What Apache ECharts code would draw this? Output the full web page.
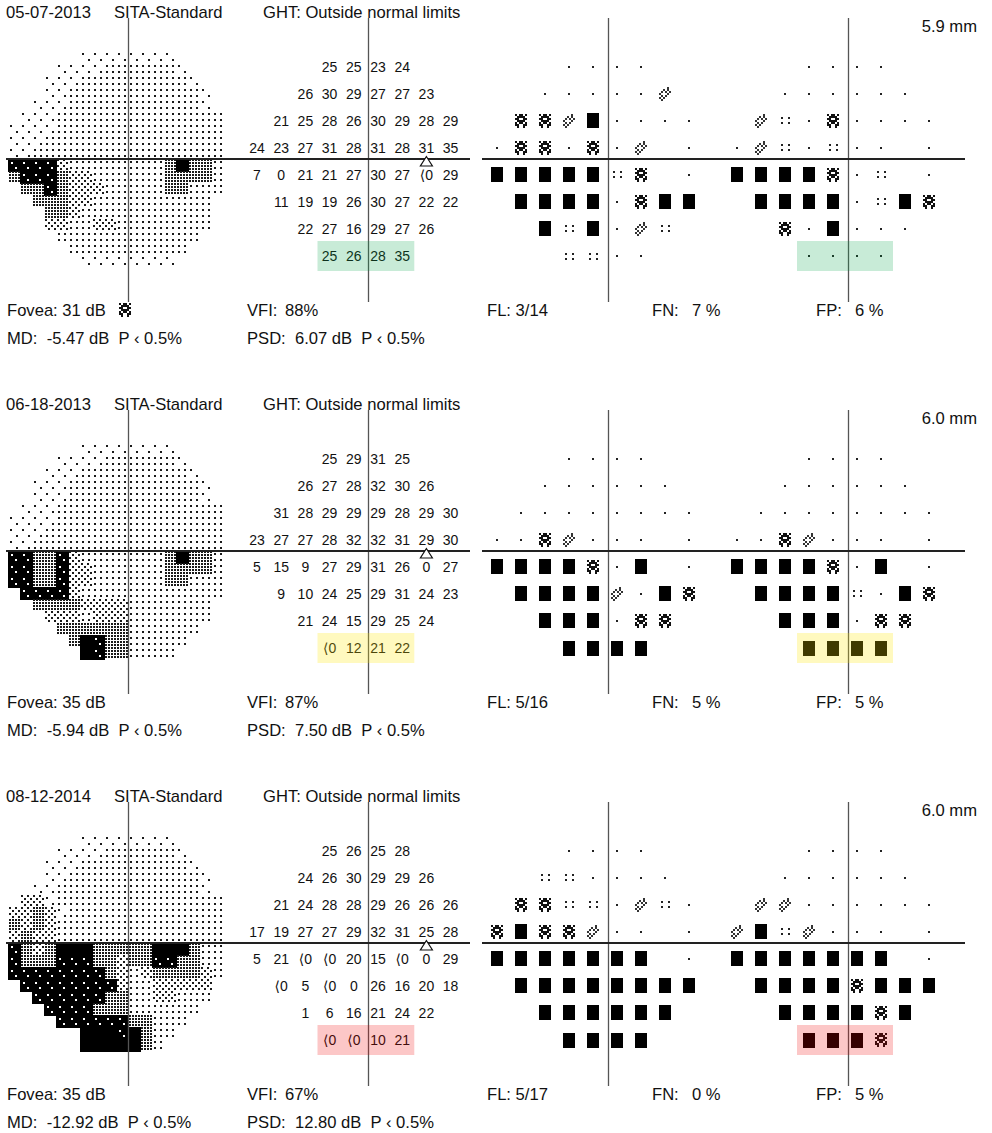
<!DOCTYPE html>
<html>
<head>
<meta charset="utf-8">
<title>Visual field series</title>
<script src="https://cdn.jsdelivr.net/npm/echarts@6/dist/echarts.min.js"></script>
<style>
html, body { margin: 0; padding: 0; background: #fff; }
#chart { width: 992px; height: 1133px; }
</style>
</head>
<body>
<div id="chart"></div>
<script>
// exam header / footer values
const examDates = ['05-07-2013', '06-18-2013', '08-12-2014'];
const pupilSizes = ['5.9 mm', '6.0 mm', '6.0 mm'];
const foveaValues = ['31 dB', '35 dB', '35 dB'];
const vfiValues = ['88%', '87%', '67%'];
const fixationLosses = ['3/14', '5/16', '5/17'];
const falseNegatives = ['7 %', '5 %', '0 %'];
const falsePositives = ['6 %', '5 %', '5 %'];
const mdValues = ['-5.47 dB', '-5.94 dB', '-12.92 dB'];
const psdValues = ['6.07 dB', '7.50 dB', '12.80 dB'];

// first column of each of the 8 rows of the 24-2 grid
const rowStart = [3, 2, 1, 0, 0, 1, 2, 3];

// threshold values (dB), -1 = "<0"
const threshold1 = [
  [25, 25, 23, 24],
  [26, 30, 29, 27, 27, 23],
  [21, 25, 28, 26, 30, 29, 28, 29],
  [24, 23, 27, 31, 28, 31, 28, 31, 35],
  [7, 0, 21, 21, 27, 30, 27, -1, 29],
  [11, 19, 19, 26, 30, 27, 22, 22],
  [22, 27, 16, 29, 27, 26],
  [25, 26, 28, 35]
];
const threshold2 = [
  [25, 29, 31, 25],
  [26, 27, 28, 32, 30, 26],
  [31, 28, 29, 29, 29, 28, 29, 30],
  [23, 27, 27, 28, 32, 32, 31, 29, 30],
  [5, 15, 9, 27, 29, 31, 26, 0, 27],
  [9, 10, 24, 25, 29, 31, 24, 23],
  [21, 24, 15, 29, 25, 24],
  [-1, 12, 21, 22]
];
const threshold3 = [
  [25, 26, 25, 28],
  [24, 26, 30, 29, 29, 26],
  [21, 24, 28, 28, 29, 26, 26, 26],
  [17, 19, 27, 27, 29, 32, 31, 25, 28],
  [5, 21, -1, -1, 20, 15, -1, 0, 29],
  [-1, 5, -1, 0, 26, 16, 20, 18],
  [1, 6, 16, 21, 24, 22],
  [-1, -1, 10, 21]
];

// probability symbols: 0 normal, 1 p<5%, 2 p<2%, 3 p<1%, 4 p<0.5%, null blind spot
const totalDev1 = [
  [0, 0, 0, 0],
  [0, 0, 0, 0, 0, 2],
  [3, 3, 2, 4, 0, 0, 0, 0],
  [0, 3, 3, 0, 3, 0, 2, null, 0],
  [4, 4, 4, 4, 4, 1, 3, null, 0],
  [4, 4, 4, 4, 0, 3, 4, 4],
  [4, 1, 4, 0, 2, 1],
  [1, 1, 0, 0]
];
const patternDev1 = [
  [0, 0, 0, 0],
  [0, 0, 0, 0, 0, 0],
  [2, 1, 0, 3, 0, 0, 0, 0],
  [0, 2, 1, 0, 1, 0, 0, null, 0],
  [4, 4, 4, 4, 3, 0, 1, null, 0],
  [4, 4, 4, 4, 0, 1, 4, 3],
  [3, 0, 4, 0, 0, 0],
  [0, 0, 0, 0]
];
const totalDev2 = [
  [0, 0, 0, 0],
  [0, 0, 0, 0, 0, 0],
  [0, 0, 0, 0, 0, 0, 0, 0],
  [0, 0, 3, 2, 0, 0, 0, null, 0],
  [4, 4, 4, 4, 3, 0, 4, null, 0],
  [4, 4, 4, 4, 2, 0, 4, 3],
  [4, 4, 4, 0, 3, 3],
  [4, 4, 4, 4]
];
const patternDev2 = [
  [0, 0, 0, 0],
  [0, 0, 0, 0, 0, 0],
  [0, 0, 0, 0, 0, 0, 0, 0],
  [0, 0, 3, 2, 0, 0, 0, null, 0],
  [4, 4, 4, 4, 3, 0, 4, null, 0],
  [4, 4, 4, 4, 1, 0, 4, 3],
  [4, 4, 4, 0, 3, 3],
  [4, 4, 4, 4]
];
const totalDev3 = [
  [0, 0, 0, 0],
  [1, 1, 0, 0, 0, 0],
  [3, 3, 1, 1, 0, 2, 1, 0],
  [3, 4, 3, 3, 2, 0, 0, null, 0],
  [4, 4, 4, 4, 4, 4, 4, null, 0],
  [4, 4, 4, 4, 4, 4, 4, 4],
  [4, 4, 4, 4, 4, 4],
  [4, 4, 4, 4]
];
const patternDev3 = [
  [0, 0, 0, 0],
  [0, 0, 0, 0, 0, 0],
  [2, 2, 0, 0, 0, 0, 0, 0],
  [2, 4, 1, 2, 0, 0, 0, null, 0],
  [4, 4, 4, 4, 4, 4, 4, null, 0],
  [4, 4, 4, 4, 3, 4, 4, 4],
  [4, 4, 4, 4, 3, 4],
  [4, 4, 4, 3]
];

// grayscale tones, 18x18 cells; '.' outside, L lightest ... 4 black
const grayscale1 = [
  '......LLLLLLLL....',
  '....LLLL000000L...',
  '...LLL000000000L..',
  '...LL00000000000L.',
  '..LLL00000000000L.',
  '.LLL00000000000000',
  'LLLL00000000000000',
  'LLL000000000000000',
  'LL0000000000000000',
  '333310000000024220',
  '233321100000022220',
  '.22321110000022000',
  '..222110000000000.',
  '...22100000000000.',
  '...11001100000000.',
  '....000000000000..',
  '.....0000000000...',
  '......LLLLLLLL....'
];
const grayscale2 = [
  '......LLLLLLLL....',
  '....LLLL000000L...',
  '...LLL000000000L..',
  '..LLL00000000000L.',
  '..LLL00000000000L.',
  '.LLL00000000000000',
  'LLLL00000000000000',
  'LLL000000000000000',
  'LL0000000000000000',
  '332231000000024220',
  '332231100000022220',
  '332231100000022000',
  '.33331000000000000',
  '..222211110000000.',
  '...11101110000000.',
  '....222222000000..',
  '.....2432200000...',
  '......43220000....'
];
const grayscale3 = [
  '......LLLLLLLL....',
  '....LLLL000000L...',
  '...LLL000000000L..',
  '...LL00000000000L.',
  '..LL000000000000L.',
  '.11L00000000000000',
  '1121L0000000000000',
  '212100000000000000',
  '121100000000000000',
  '321244422222444200',
  '322233322122332200',
  '333333332101222210',
  '.3333333310011111.',
  '..333333220011000.',
  '...3333222000000..',
  '....33333322000...',
  '......44434200....',
  '......4444420.....'
];

const panels = [
  { thr: threshold1, td: totalDev1, pd: patternDev1, gray: grayscale1, hi: 'rgba(5,164,73,0.22)', fovSym: true },
  { thr: threshold2, td: totalDev2, pd: patternDev2, gray: grayscale2, hi: 'rgba(255,232,0,0.25)', fovSym: false },
  { thr: threshold3, td: totalDev3, pd: patternDev3, gray: grayscale3, hi: 'rgba(240,0,0,0.22)', fovSym: false }
];
const panelTop = [0, 392, 784];
const FONT = '"Liberation Sans", Arial, "DejaVu Sans", sans-serif';
const toneCode = { L: 0, '0': 1, '1': 2, '2': 3, '3': 4, '4': 5 };

function px(x, y, w, h, fill) {
  return { type: 'rect', shape: { x: Math.round(x), y: Math.round(y), width: w, height: h }, style: { fill: fill } };
}

const denseMask = ['#.##.#', '.####.', '##..##', '.####.', '#.##.#', '##..##', '.#..#.'];
const lightMask = ['....#.', '..#.#.', '.#.#.#', '#...#.', '.#.#..', '#.#...', '.#....'];

function probSymbol(code, cx, cy) {
  const out = [];
  if (code === 0) {
    out.push(px(cx - 1, cy - 1, 2, 2, '#222'));
  } else if (code === 1) {
    [[-4.5, -3.5], [2.5, -3.5], [-4.5, 1.5], [2.5, 1.5]].forEach(d => out.push(px(cx + d[0], cy + d[1], 2, 2, '#222')));
  } else if (code === 2 || code === 3) {
    const mask = code === 3 ? denseMask : lightMask;
    const col = code === 3 ? '#111' : '#333';
    mask.forEach((row, j) => {
      for (let i = 0; i < row.length; i++) {
        if (row[i] === '#') out.push(px(cx - 6 + i * 2, cy - 7 + j * 2, 2, 2, col));
      }
    });
  } else if (code === 4) {
    out.push(px(cx - 6, cy - 7.5, 12, 15, '#000'));
  }
  return out;
}

function cellPattern(tone, x0, y0, s) {
  const out = [];
  const dot = (fx, fy, fill) => out.push(px(x0 + fx * s - 1, y0 + fy * s - 1, 2, 2, fill || '#1a1a1a'));
  if (tone === 0) {
    dot(0.25, 0.25); dot(0.75, 0.75);
  } else if (tone === 1) {
    dot(0.25, 0.25); dot(0.75, 0.25); dot(0.25, 0.75); dot(0.75, 0.75);
  } else if (tone === 2 || tone === 3) {
    for (let i = 0; i < 4; i++) {
      for (let j = 0; j < 4; j++) {
        if (tone === 3 || (i + j) % 2 === 0) dot(0.125 + i * 0.25, 0.125 + j * 0.25);
      }
    }
  } else {
    out.push(px(x0, y0, Math.round(s) + 1, Math.round(s) + 1, '#000'));
    if (tone === 4) {
      dot(0.3, 0.3, '#fff'); dot(0.7, 0.75, '#fff');
    }
  }
  return out;
}

function grayData(rows) {
  const out = [];
  rows.forEach((line, r) => {
    for (let c = 0; c < line.length; c++) {
      const t = toneCode[line[c]];
      if (t !== undefined) out.push([c - 10, 9 - r, t]);
    }
  });
  return out;
}

function pointData(rows) {
  const out = [];
  rows.forEach((vals, r) => vals.forEach((v, i) => {
    if (v !== null) out.push([rowStart[r] + i, r, v]);
  }));
  return out;
}

const crossStyle = { color: '#555', width: 1.3, type: 'solid' };
const horizStyle = { color: '#222', width: 2, type: 'solid' };
function cross(x, y) {
  return {
    silent: true, symbol: ['none', 'none'], label: { show: false }, animation: false,
    lineStyle: { type: 'solid' },
    data: [{ xAxis: x, lineStyle: crossStyle }, { yAxis: y, lineStyle: horizStyle }]
  };
}

const grids = [], xAxes = [], yAxes = [], series = [], graphics = [];
const rowAxis = { min: -1.8148, max: 8.7037, inverse: true };

panels.forEach((p, k) => {
  const dy = panelTop[k];
  const g0 = grids.length;
  grids.push({ left: 6, top: 18 + dy, width: 234, height: 284 });
  grids.push({ left: 240, top: 18 + dy, width: 230, height: 284 });
  grids.push({ left: 482, top: 18 + dy, width: 246, height: 284 });
  grids.push({ left: 728, top: 18 + dy, width: 237, height: 284 });
  const xr = [[-10.1667, 9.3333], [-0.7025, 8.8017], [-0.625, 9.625], [-0.375, 9.5]];
  xr.forEach((r, i) => {
    xAxes.push({ gridIndex: g0 + i, type: 'value', min: r[0], max: r[1], show: false });
    if (i === 0) yAxes.push({ gridIndex: g0, type: 'value', min: -11.9167, max: 11.75, show: false });
    else yAxes.push(Object.assign({ gridIndex: g0 + i, type: 'value', show: false }, rowAxis));
  });

  // grayscale
  series.push({
    type: 'custom', xAxisIndex: g0, yAxisIndex: g0, z: 2,
    data: grayData(p.gray),
    renderItem: (params, api) => {
      const a = api.coord([api.value(0), api.value(1)]);
      const b = api.coord([api.value(0) + 1, api.value(1) - 1]);
      return { type: 'group', children: cellPattern(api.value(2), a[0], a[1], b[0] - a[0]) };
    },
    markLine: cross(0, 0)
  });

  // threshold numbers
  series.push({
    type: 'custom', xAxisIndex: g0 + 1, yAxisIndex: g0 + 1, z: 2,
    data: pointData(p.thr),
    renderItem: (params, api) => {
      const c = api.coord([api.value(0), api.value(1)]);
      const v = api.value(2);
      return {
        type: 'text', x: c[0], y: c[1],
        style: { text: v < 0 ? '\u27E80' : String(v), fontSize: 14, fontFamily: FONT, fill: '#111', align: 'center', verticalAlign: 'middle' }
      };
    },
    markLine: cross(4.587, 3.407)
  });
  // blind spot marker
  series.push({
    type: 'custom', xAxisIndex: g0 + 1, yAxisIndex: g0 + 1, z: 6,
    data: [[7, 3.5]],
    renderItem: (params, api) => {
      const c = api.coord([api.value(0), api.value(1)]);
      return {
        type: 'polygon',
        shape: { points: [[c[0], c[1] - 5], [c[0] - 6, c[1] + 4.5], [c[0] + 6, c[1] + 4.5]] },
        style: { fill: '#fff', stroke: '#111', lineWidth: 1.2 }
      };
    }
  });

  // total deviation / pattern deviation
  [p.td, p.pd].forEach((rows, i) => {
    series.push({
      type: 'custom', xAxisIndex: g0 + 2 + i, yAxisIndex: g0 + 2 + i, z: 2,
      data: pointData(rows),
      renderItem: (params, api) => {
        const c = api.coord([api.value(0), api.value(1)]);
        return { type: 'group', children: probSymbol(api.value(2), c[0], c[1]) };
      },
      markLine: cross(4.625, 3.407)
    });
  });

  // highlighted bottom row on threshold and pattern deviation plots
  [g0 + 1, g0 + 3].forEach(gi => {
    series.push({
      type: 'custom', xAxisIndex: gi, yAxisIndex: gi, z: 8,
      data: [[2.5, 6.44, 6.5, 7.56]],
      renderItem: (params, api) => {
        const a = api.coord([api.value(0), api.value(1)]);
        const b = api.coord([api.value(2), api.value(3)]);
        return { type: 'rect', shape: { x: a[0], y: a[1], width: b[0] - a[0], height: b[1] - a[1] }, style: { fill: p.hi } };
      }
    });
  });

  // header and footer text
  const t = (text, x, y, align) => graphics.push({
    type: 'text', x: x, y: y + dy, silent: true,
    style: { text: text, fontSize: 16.6, fontFamily: FONT, fill: '#111', align: align || 'left', verticalAlign: 'middle' }
  });
  t(examDates[k], 6, 12);
  t('SITA-Standard', 114, 12);
  t('GHT: Outside normal limits', 263, 12);
  t(pupilSizes[k], 977, 26, 'right');
  t('Fovea: ' + foveaValues[k], 7, 310);
  t('VFI:', 247, 310);
  t(vfiValues[k], 285, 310);
  t('FL: ' + fixationLosses[k], 487, 310);
  t('FN:', 652, 310);
  t(falseNegatives[k], 692, 310);
  t('FP:', 816, 310);
  t(falsePositives[k], 855, 310);
  t('MD:  ' + mdValues[k] + '  P \u2039 0.5%', 7, 338);
  t('PSD:  ' + psdValues[k] + '  P \u2039 0.5%', 247, 338);
  if (p.fovSym) {
    graphics.push({ type: 'group', silent: true, children: probSymbol(3, 125, 310 + dy) });
  }
});

const chart = echarts.init(document.getElementById('chart'), null, { renderer: 'svg' });
chart.setOption({
  animation: false,
  backgroundColor: '#fff',
  grid: grids,
  xAxis: xAxes,
  yAxis: yAxes,
  series: series,
  graphic: graphics
});
window.addEventListener('resize', () => chart.resize());
</script>
</body>
</html>
